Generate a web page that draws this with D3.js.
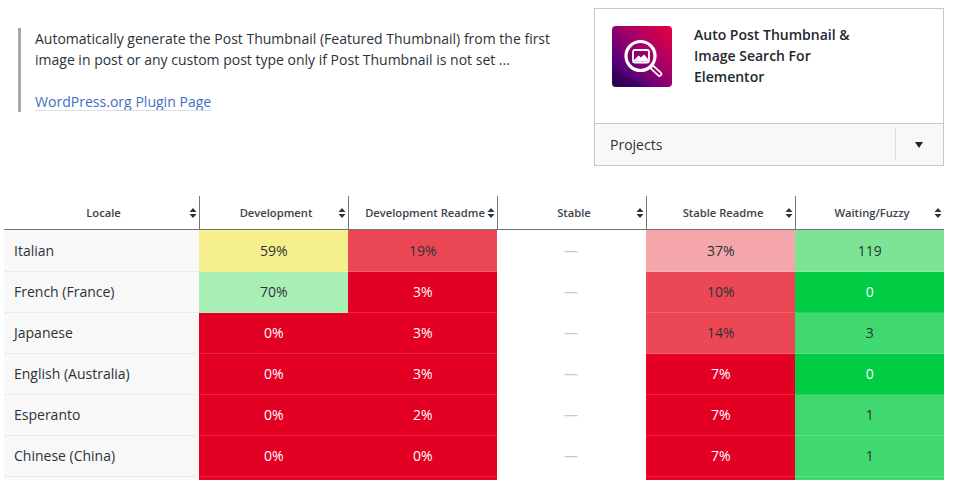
<!DOCTYPE html>
<html><head><meta charset="utf-8">
<script src="https://cdn.jsdelivr.net/npm/d3@7"></script>
<style>html,body{margin:0;padding:0;background:#fff;overflow:hidden}svg{display:block}text{font-family:"Open Sans","Noto Sans",sans-serif}</style>
</head><body><svg id="c" width="954" height="480"></svg>
<script>
const columns = ["Locale","Development","Development Readme","Stable","Stable Readme","Waiting/Fuzzy"];
const locales = ["Italian","French (France)","Japanese","English (Australia)","Esperanto","Chinese (China)",""];
const development = [59,70,0,0,0,0,0];
const developmentReadme = [19,3,3,3,2,0,0];
const stable = [null,null,null,null,null,null,null];
const stableReadme = [37,10,14,7,7,7,7];
const waiting = [119,0,3,0,1,1,1];
const descLines = ["Automatically generate the Post Thumbnail (Featured Thumbnail) from the first","image in post or any custom post type only if Post Thumbnail is not set ..."];
const cardTitle = ["Auto Post Thumbnail &","Image Search For","Elementor"];

const svg = d3.select("#c");
const x = d3.scaleLinear().domain([0,1]).range([199,348]);
const colX = i => i===0 ? 4 : x(i-1);
const colW = i => i===0 ? 195 : x(1)-x(0);
const y = d3.scaleLinear().domain([0,1]).range([231,272]);
const rectTop = i => i===0 ? 230 : y(i);
const rectH = i => i===0 ? 42 : 41;
const pctColor = d3.scaleThreshold().domain([10,30,50,65,90]).range(["#e30023","#ec4755","#f5a6ab","#f6f08c","#a8efb6","#00cc44"]);
const pctText = v => v<10 ? "#fff" : "#2c3338";
const waitColor = v => v===0 ? "#00cc44" : v<50 ? "#3fd96f" : "#7de495";
const textDark = "#2c3338";

// description
svg.append("rect").attr("x",18).attr("y",28).attr("width",3).attr("height",84).attr("fill","#a7a7a7");
svg.selectAll(".desc").data(descLines).join("text").attr("x",35).attr("y",(d,i)=>44+i*21)
  .attr("font-size",14).attr("fill",textDark).text(d=>d);
svg.append("text").attr("x",35).attr("y",107).attr("font-size",14.05).attr("fill","#3f6ec2").text("WordPress.org Plugin Page");
svg.append("rect").attr("x",35).attr("y",110).attr("width",176).attr("height",1).attr("fill","#dcdfe6");

// card
svg.append("rect").attr("x",594.5).attr("y",8.5).attr("width",349).attr("height",157).attr("fill","#fff").attr("stroke","#c8c8c8");
svg.append("rect").attr("x",595).attr("y",124).attr("width",348).attr("height",41).attr("fill","#f8f8f8");
svg.append("line").attr("x1",595).attr("x2",943).attr("y1",123.5).attr("y2",123.5).attr("stroke","#c8c8c8");
svg.append("line").attr("x1",895.5).attr("x2",895.5).attr("y1",129).attr("y2",159).attr("stroke","#dcdcdc");
svg.append("text").attr("x",610).attr("y",150).attr("font-size",14).attr("fill",textDark).text("Projects");
svg.append("path").attr("d","M915 142h8l-4 6z").attr("fill","#1d2327");
svg.selectAll(".ct").data(cardTitle).join("text").attr("x",694).attr("y",(d,i)=>40+i*21)
  .attr("font-size",14).attr("font-weight",600).attr("fill","#23282d").text(d=>d);

// icon
const defs = svg.append("defs");
const g = defs.append("linearGradient").attr("id","ig").attr("x1","1").attr("y1","0").attr("x2","0").attr("y2","1");
g.append("stop").attr("offset","0").attr("stop-color","#e8003e");
g.append("stop").attr("offset","0.4").attr("stop-color","#a80068");
g.append("stop").attr("offset","0.75").attr("stop-color","#56007a");
g.append("stop").attr("offset","1").attr("stop-color","#2e0050");
svg.append("rect").attr("x",612).attr("y",26).attr("width",60).attr("height",61).attr("rx",4).attr("fill","url(#ig)");
svg.append("path").attr("d","M612 70L646 87H616a4 4 0 0 1-4-4z").attr("fill","#2e0050").attr("opacity",.55);
svg.append("circle").attr("cx",640.500).attr("cy",56).attr("r",14.500).attr("fill","none").attr("stroke","#fff").attr("stroke-width",3.200);
svg.append("rect").attr("x",633).attr("y",50).attr("width",16).attr("height",12.500).attr("rx",2).attr("fill","none").attr("stroke","#fff").attr("stroke-width",1.800);
svg.append("path").attr("d","M634 60l4.500-4.500 2.500 2 3-3 4 4.500v2.500h-14z").attr("fill","#fff");
svg.append("line").attr("x1",653).attr("y1",68).attr("x2",659.500).attr("y2",74).attr("stroke","#fff").attr("stroke-width",5.500).attr("stroke-linecap","round");
svg.append("line").attr("x1",653).attr("y1",68).attr("x2",659.500).attr("y2",74).attr("stroke","#9a0068").attr("stroke-width",2).attr("stroke-linecap","round");

// header
columns.forEach((c,i)=>{
  const cx = i===0 ? 103.500 : (i===2 ? colX(i)+77 : colX(i)+colW(i)/2 + 2.500);
  svg.append("text").attr("x",cx).attr("y",217).attr("text-anchor","middle").attr("font-size",11.200)
    .attr("font-weight",600).attr("fill","#3c434a").text(c);
  const sx = colX(i)+colW(i)-6;
  svg.append("path").attr("d",`M${sx-3.500} 212h7l-3.500 -4zM${sx-3.500} 214h7l-3.500 4z`).attr("fill","#2c3338");
  if(i>0) svg.append("line").attr("x1",colX(i)+.5).attr("x2",colX(i)+.5).attr("y1",196).attr("y2",229).attr("stroke","#72757a");
});

// rows
const rows = locales.map((l,i)=>({l,i,vals:[development[i],developmentReadme[i],stable[i],stableReadme[i],waiting[i]]}));
const row = svg.selectAll(".row").data(rows).join("g").attr("class","row");
row.append("rect").attr("x",colX(0)).attr("y",d=>rectTop(d.i)).attr("width",colW(0)).attr("height",d=>rectH(d.i)).attr("fill","#f8f8f8");
row.append("text").attr("x",14).attr("y",d=>y(d.i)+25).attr("font-size",14).attr("fill",textDark).text(d=>d.l);
row.each(function(d){
  const sel = d3.select(this);
  d.vals.forEach((v,j)=>{
    const cx = x(j), w = x(1)-x(0), ry = y(d.i);
    const isW = j===4, none = v===null;
    const fill = none ? "#fff" : isW ? waitColor(v) : pctColor(v);
    sel.append("rect").attr("x",cx).attr("y",rectTop(d.i)).attr("width",w).attr("height",rectH(d.i)).attr("fill",fill);
    if(!none) sel.append("rect").attr("x",cx).attr("y",ry+40).attr("width",w).attr("height",1).attr("fill","#fff").attr("opacity",.15);
    if(d.l==="") return;
    const label = none ? "—" : isW ? String(v) : v+"%";
    const col = none ? "#c8c8c8" : isW ? (v===0 ? "#fff" : textDark) : pctText(v);
    sel.append("text").attr("x",cx+w/2+(none?-.5:.3)).attr("y",ry+25).attr("text-anchor","middle").attr("font-size",14).attr("fill",col).text(label);
  });
  sel.append("rect").attr("x",4).attr("y",y(d.i)+40).attr("width",195).attr("height",1).attr("fill","#ebebeb");
});
svg.append("line").attr("x1",4).attr("x2",944).attr("y1",229.5).attr("y2",229.5).attr("stroke","#72757a");
</script></body></html>
